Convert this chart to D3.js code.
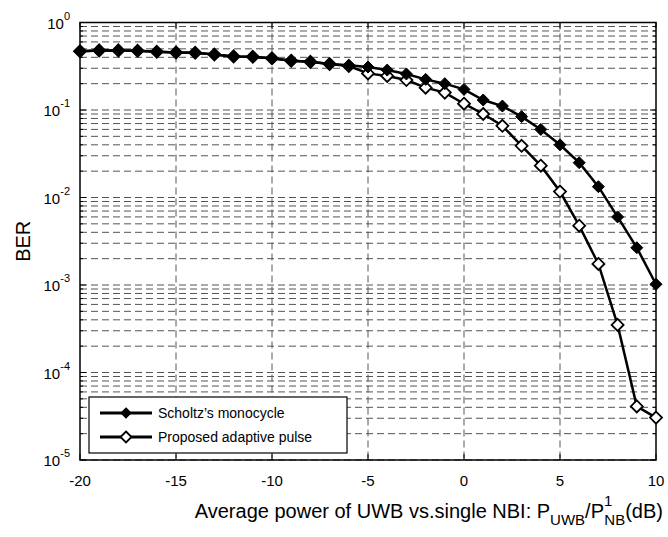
<!DOCTYPE html>
<html>
<head>
<meta charset="utf-8">
<script src="https://cdn.jsdelivr.net/npm/d3@7"></script>
<style>
  body { margin: 0; background: #fff; }
  text { font-family: "Liberation Sans", Arial, sans-serif; fill: #000; }
</style>
</head>
<body>
<div id="chart"></div>
<script>
// data
const snr = d3.range(-20, 11)
const scholtz = [0.47, 0.48, 0.48, 0.475, 0.463, 0.455, 0.45, 0.43, 0.41, 0.405, 0.39,
                 0.366, 0.355, 0.335, 0.325, 0.31, 0.286, 0.258, 0.224, 0.2, 0.172,
                 0.13, 0.111, 0.084, 0.06, 0.04, 0.025, 0.0133, 0.006, 0.00267, 0.00102]
const proposed = [0.47, 0.48, 0.48, 0.475, 0.463, 0.455, 0.45, 0.43, 0.41, 0.405, 0.39,
                  0.366, 0.355, 0.335, 0.318, 0.262, 0.245, 0.22, 0.18, 0.158, 0.118,
                  0.09, 0.066, 0.039, 0.0231, 0.0117, 0.00476, 0.00174, 0.00035, 4.1e-5, 3.05e-5]
const xTicks = [-20, -15, -10, -5, 0, 5, 10]
const yDecades = [0, -1, -2, -3, -4, -5]
const seriesNames = ["Scholtz\u2019s monocycle", "Proposed adaptive pulse"]

const W = 668, H = 537
const m = {left: 80, right: 12, top: 22.5, bottom: 77}

const svg = d3.select('div#chart')
    .append('svg')
    .attr('width', W)
    .attr('height', H)

const x = d3.scaleLinear().domain([-20, 10]).range([m.left, W - m.right])
const y = d3.scaleLog().domain([1e-5, 1]).range([H - m.bottom, m.top])

const grid = svg.append('g')
    .attr('stroke', '#555')
    .attr('stroke-width', 1)
    .attr('stroke-dasharray', '7,4')

// horizontal grid: every decade plus minors
let yGrid = []
for (let e = -5; e < 0; e++) {
    for (let k = 1; k <= 9; k++) yGrid.push(k * Math.pow(10, e))
}
grid.selectAll('line.h')
    .data(yGrid)
    .enter()
    .append('line')
    .attr('x1', x(-20))
    .attr('x2', x(10))
    .attr('y1', d => y(d))
    .attr('y2', d => y(d))

grid.selectAll('line.v')
    .data(xTicks.slice(1, -1))
    .enter()
    .append('line')
    .attr('x1', d => x(d))
    .attr('x2', d => x(d))
    .attr('y1', y(1))
    .attr('y2', y(1e-5))

// minor tick marks on left/right
const tickG = svg.append('g').attr('stroke', '#000').attr('stroke-width', 1)
tickG.selectAll('line.tl')
    .data(yGrid)
    .enter()
    .append('line')
    .attr('x1', x(-20))
    .attr('x2', d => x(-20) + (Math.abs(Math.log10(d) % 1) < 1e-9 ? 6 : 3))
    .attr('y1', d => y(d))
    .attr('y2', d => y(d))
tickG.selectAll('line.tr')
    .data(yGrid)
    .enter()
    .append('line')
    .attr('x1', x(10))
    .attr('x2', d => x(10) - (Math.abs(Math.log10(d) % 1) < 1e-9 ? 6 : 3))
    .attr('y1', d => y(d))
    .attr('y2', d => y(d))
tickG.selectAll('line.tb')
    .data(xTicks)
    .enter()
    .append('line')
    .attr('x1', d => x(d))
    .attr('x2', d => x(d))
    .attr('y1', y(1e-5))
    .attr('y2', y(1e-5) - 6)
tickG.selectAll('line.tt')
    .data(xTicks)
    .enter()
    .append('line')
    .attr('x1', d => x(d))
    .attr('x2', d => x(d))
    .attr('y1', y(1))
    .attr('y2', y(1) + 6)

// plot box
svg.append('rect')
    .attr('x', x(-20))
    .attr('y', y(1))
    .attr('width', x(10) - x(-20))
    .attr('height', y(1e-5) - y(1))
    .attr('fill', 'none')
    .attr('stroke', '#000')
    .attr('stroke-width', 1.5)

// x tick labels
svg.selectAll('text.xt')
    .data(xTicks)
    .enter()
    .append('text')
    .attr('x', d => x(d))
    .attr('y', y(1e-5) + 26)
    .attr('text-anchor', 'middle')
    .style('font-size', '15px')
    .text(d => d)

// y tick labels 10^e
const yl = svg.selectAll('text.yt')
    .data(yDecades)
    .enter()
    .append('text')
    .attr('x', m.left - 10)
    .attr('y', d => y(Math.pow(10, d)) + 6)
    .attr('text-anchor', 'end')
    .style('font-size', '15px')
yl.append('tspan').text('10')
yl.append('tspan')
    .attr('dy', -9)
    .style('font-size', '11px')
    .text(d => d)

// axis titles
svg.append('text')
    .attr('transform', `translate(30, ${(y(1) + y(1e-5)) / 2}) rotate(-90)`)
    .attr('text-anchor', 'middle')
    .style('font-size', '20px')
    .text('BER')

const xt = svg.append('text')
    .attr('x', 663)
    .attr('y', 518)
    .attr('text-anchor', 'end')
    .style('font-size', '20px')
xt.append('tspan').text('Average power of UWB vs.single NBI: P')
xt.append('tspan').attr('dy', 7).style('font-size', '15px').text('UWB')
xt.append('tspan').attr('dy', -7).text('/P')
xt.append('tspan').attr('dy', -12).style('font-size', '15px').text('1')
xt.append('tspan').attr('dy', 19).attr('dx', -8).style('font-size', '15px').text('NB')
xt.append('tspan').attr('dy', -7).text('(dB)')

// series
const line = d3.line().x(d => x(d[0])).y(d => y(d[1]))
const s1 = snr.map((d, i) => [d, scholtz[i]])
const s2 = snr.map((d, i) => [d, proposed[i]])
const diamond = r => `M0,${-r}L${r},0L0,${r}L${-r},0Z`

svg.append('path')
    .datum(s2)
    .attr('d', line)
    .attr('fill', 'none')
    .attr('stroke', '#000')
    .attr('stroke-width', 2.5)
svg.append('path')
    .datum(s1)
    .attr('d', line)
    .attr('fill', 'none')
    .attr('stroke', '#000')
    .attr('stroke-width', 2.5)

svg.selectAll('path.m2')
    .data(s2)
    .enter()
    .append('path')
    .attr('transform', d => `translate(${x(d[0])},${y(d[1])})`)
    .attr('d', diamond(6))
    .attr('fill', '#fff')
    .attr('stroke', '#000')
    .attr('stroke-width', 1.8)
svg.selectAll('path.m1')
    .data(s1)
    .enter()
    .append('path')
    .attr('transform', d => `translate(${x(d[0])},${y(d[1])})`)
    .attr('d', diamond(6))
    .attr('fill', '#000')
    .attr('stroke', '#000')
    .attr('stroke-width', 1)

// legend
const lg = svg.append('g')
lg.append('rect')
    .attr('x', 89)
    .attr('y', 397)
    .attr('width', 258)
    .attr('height', 56)
    .attr('fill', '#fff')
    .attr('stroke', '#000')
    .attr('stroke-width', 1.2)
seriesNames.forEach((name, i) => {
    const yy = 413 + i * 24
    lg.append('line')
        .attr('x1', 100).attr('x2', 152)
        .attr('y1', yy).attr('y2', yy)
        .attr('stroke', '#000')
        .attr('stroke-width', 3)
    lg.append('path')
        .attr('transform', `translate(126,${yy})`)
        .attr('d', diamond(i == 0 ? 4.5 : 5.5))
        .attr('fill', i == 0 ? '#000' : '#fff')
        .attr('stroke', '#000')
        .attr('stroke-width', 1.8)
    lg.append('text')
        .attr('x', 158)
        .attr('y', yy + 5)
        .style('font-size', '14px')
        .text(name)
})
</script>
</body>
</html>
